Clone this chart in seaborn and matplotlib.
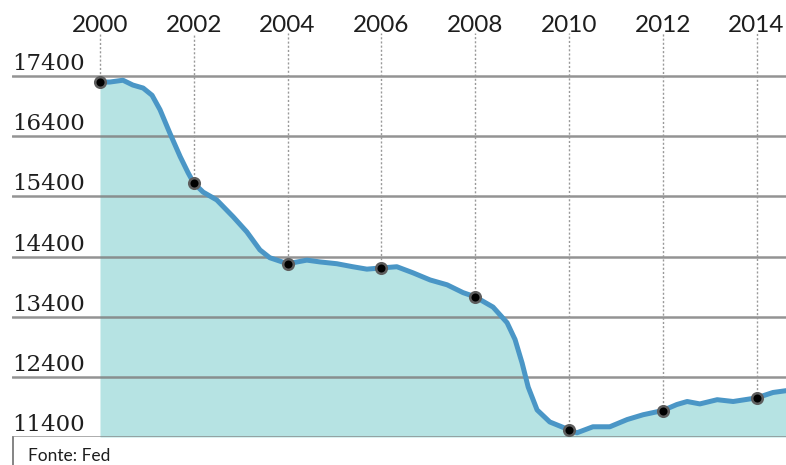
import numpy as np
import matplotlib
matplotlib.use("Agg")
import matplotlib.pyplot as plt
from matplotlib.lines import Line2D
import seaborn as sns

# Series (decimal year, value)
years = [2000.0, 2000.21, 2000.49, 2000.70, 2000.92, 2001.11, 2001.28, 2001.49,
         2001.71, 2001.88, 2002.0, 2002.20, 2002.49, 2002.84, 2003.13, 2003.41,
         2003.62, 2004.0, 2004.41, 2004.69, 2005.05, 2005.39, 2005.69, 2006.0,
         2006.33, 2006.67, 2007.04, 2007.40, 2007.74, 2008.0, 2008.38, 2008.68,
         2008.85, 2009.0, 2009.13, 2009.32, 2009.59, 2010.0, 2010.17, 2010.51,
         2010.87, 2011.24, 2011.58, 2012.0, 2012.30, 2012.52, 2012.79, 2013.16,
         2013.50, 2014.0, 2014.35, 2014.63]
values = [17300, 17300, 17330, 17250, 17200, 17080, 16840, 16450,
          16060, 15790, 15620, 15470, 15340, 15060, 14810, 14510,
          14380, 14280, 14340, 14310, 14280, 14230, 14190, 14210,
          14230, 14130, 14010, 13930, 13800, 13730, 13560, 13300,
          13020, 12630, 12230, 11850, 11650, 11520, 11470, 11570,
          11570, 11690, 11770, 11840, 11940, 11990, 11950, 12020,
          11990, 12050, 12140, 12170]

mark_years = [2000, 2002, 2004, 2006, 2008, 2010, 2012, 2014]
y_ticks = [11400, 12400, 13400, 14400, 15400, 16400, 17400]
source_text = "Fonte: Fed"

yrs = np.array(years)
vals = np.array(values)
sel = np.isin(yrs, mark_years)
mark_x = yrs[sel]
mark_v = vals[sel]

sns.set_theme(style="white")

W, H = 786, 465
fig = plt.figure(figsize=(W / 100, H / 100), dpi=100)
left_px, bottom_px, top_px = 12, 437, 33
ax = fig.add_axes([left_px / W, 1 - bottom_px / H, 1 - left_px / W,
                   (bottom_px - top_px) / H])
ymin, ymax = 11400, 18115
ax.set_xlim(1998.124, 2014.627)
ax.set_ylim(ymin, ymax)
ax.set_axis_off()

# filled area under the curve
ax.fill_between(yrs, vals, ymin, color="#b6e3e3", lw=0, zorder=1)

# horizontal reference lines
for v in y_ticks:
    ax.axhline(v, color="#808080", lw=1.8, alpha=0.85, zorder=2)

# dotted guides from each marked point up to the year labels
ax.vlines(mark_x, mark_v, ymax, colors="#999999", linestyles=(0, (1.5, 1.5)),
          lw=1.0, zorder=2)

sns.lineplot(x=yrs, y=vals, ax=ax, color="#4a96c6", lw=3.6, estimator=None,
             sort=False, zorder=3, solid_capstyle="round", solid_joinstyle="round")

sns.scatterplot(x=mark_x, y=mark_v, ax=ax, s=58, color="#000000",
                edgecolor="#5e5e5e", linewidth=1.8, zorder=5)

# year labels along the top
for yr in mark_years:
    ax.annotate(str(yr), xy=(yr, 1), xycoords=("data", "axes fraction"),
                xytext=(0, 1), textcoords="offset pixels", ha="center",
                va="baseline", fontsize=17.5, family="Lato", color="#1e1e1e")

# value labels sitting on the reference lines
for v in y_ticks:
    ax.annotate(f"{v}", xy=(0, v), xycoords=("axes fraction", "data"),
                xytext=(0, 6), textcoords="offset pixels", ha="left",
                va="baseline", fontsize=16.5, family="DejaVu Serif",
                color="#1e1e1e")

# source box
fig.add_artist(Line2D([13 / W, 13 / W], [0, 1 - 437 / H],
                      transform=fig.transFigure, color="#707070", lw=1.2))
fig.text(28 / W, 1 - 456 / H, source_text, va="center", ha="left",
         fontsize=12.5, family="Lato", color="#1e1e1e")

fig.savefig("out.png", dpi=100, facecolor="white")
